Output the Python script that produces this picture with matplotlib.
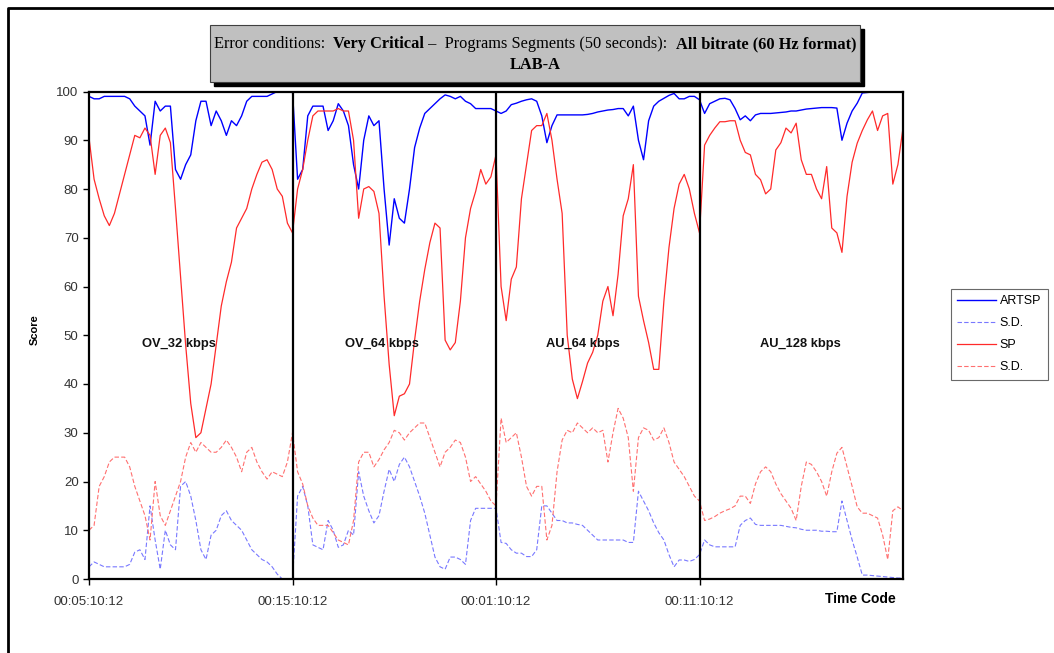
'''
ARTSP / SP scores with their standard deviations over four program segments
(OV_32, OV_64, AU_64, AU_128 kbps), error conditions: very critical, LAB-A
'''
import numpy as np
import matplotlib
matplotlib.use("Agg")
import matplotlib.pyplot as plt
from matplotlib.patches import Rectangle
from matplotlib.lines import Line2D

#  ------------  data  ---------------------------------------
segment_names = ["OV_32 kbps", "OV_64 kbps", "AU_64 kbps", "AU_128 kbps"]
time_labels = ["00:05:10:12", "00:15:10:12", "00:01:10:12", "00:11:10:12"]
samples_per_segment = 40

# ARTSP score (40 steps per segment)
artsp = [99, 98.5, 98.5, 99, 99, 99, 99, 99, 98.5, 97, 96, 95, 89, 98, 96, 97, 97, 84, 82, 85,
         87, 94, 98, 98, 93, 96, 94, 91, 94, 93, 95, 98, 99, 99, 99, 99, 99.5, 100, 100, 100, 100,
         82, 84, 95, 97, 97, 97, 92, 94, 97.5, 96, 93, 85, 80, 90, 95, 93, 94, 80, 68.5, 78,
         74, 73, 80, 88.5, 92.5, 95.5, 96.5, 97.5, 98.5, 99.3, 99, 98.5, 99, 98, 97.5, 96.5, 96.5, 96.5, 96.5, 96,
         95.5, 96, 97.3, 97.6, 98, 98.3, 98.5, 98, 95, 89.5, 93, 95.2, 95.2, 95.2, 95.2, 95.2, 95.2, 95.3, 95.5, 95.8,
         96, 96.2, 96.3, 96.5, 96.5, 95, 97, 90, 86, 94, 97, 98, 98.6, 99.2, 99.6, 98.5, 98.5, 99, 99, 98.3,
         95.5, 97.5, 98, 98.5, 98.6, 98.3, 96.5, 94.2, 95, 94, 95.2, 95.5, 95.5, 95.5, 95.6, 95.7, 95.8, 96, 96, 96.2,
         96.4, 96.5, 96.6, 96.7, 96.7, 96.7, 96.6, 90, 93.5, 96, 97.6, 99.7, 99.8, 99.9, 100, 100, 100, 100, 100, 100]

artsp_sd = [2.5, 3.5, 3, 2.5, 2.5, 2.5, 2.5, 2.5, 3, 5.5, 6, 4, 15, 8, 2, 10, 7, 6, 19, 20,
            17, 12, 6, 4, 9, 10, 13, 14, 12, 11, 10, 8, 6, 5, 4, 3.5, 2.5, 1, 0, 0, 0,
            17, 19, 15, 7, 6.5, 6, 12, 10, 6.5, 7, 10, 9, 22, 17, 14, 11.5, 13, 18, 22.5, 20,
            23.5, 25, 23, 20, 17, 13.5, 9, 4.5, 2.5, 2, 4.5, 4.5, 4, 3, 12, 14.5, 14.5, 14.5, 14.5, 14.5,
            7.5, 7.3, 6, 5.3, 5.3, 4.6, 4.6, 6, 15, 15, 13.5, 12, 12, 11.5, 11.5, 11.2, 11, 10, 9, 8,
            8, 8, 8, 8, 8, 7.5, 7.5, 18, 16, 14, 11.5, 9.5, 8, 5, 2.5, 3.9, 3.9, 3.6, 4, 5,
            8, 7, 6.6, 6.6, 6.6, 6.6, 6.6, 11, 12, 12.5, 11.2, 11, 11, 11, 11, 11, 10.8, 10.6, 10.5, 10.2,
            10, 10, 10, 9.8, 9.8, 9.7, 9.7, 16, 12, 8, 4.5, 0.8, 0.8, 0.7, 0.6, 0.5, 0.4, 0.3, 0.2, 0.2]

# SP score
sp = [90.5, 82, 78, 74.5, 72.5, 75, 79, 83, 87, 91, 90.5, 92.5, 91, 83, 91, 92.5, 89.5, 76, 62, 48,
      36, 29, 30, 35, 40, 48, 56, 61, 65, 72, 74, 76, 80, 83, 85.5, 86, 84, 80, 78.5, 73, 71,
      80, 84, 90, 95, 96, 96, 96, 96, 96.5, 96, 96, 90, 74, 80, 80.5, 79.5, 75, 58, 44, 33.5,
      37.5, 38, 40, 49, 57, 63.5, 69, 73, 72, 49, 47, 48.5, 57, 70, 76, 79.5, 84, 81, 82.5, 87,
      60, 53, 61.5, 64, 78, 85, 92, 93, 93, 95.5, 90, 82, 75, 50, 41, 37, 40.5, 44.3, 46.5, 50,
      57, 60, 54, 62.5, 74.5, 78, 85, 58, 53, 48.5, 43, 43, 57, 68, 76, 81, 83, 80, 75, 71,
      89, 91, 92.5, 93.8, 93.8, 94, 94, 90, 87.5, 87, 83, 81.9, 79, 80, 88, 89.5, 92.5, 91.5, 93.5, 86,
      83, 83, 80, 78, 84.6, 72, 71, 67, 78.5, 85.5, 89.4, 92, 94.2, 96, 92, 95, 95.5, 81, 85, 92.5]

sp_sd = [10, 11, 19, 21, 24, 25, 25, 25, 23, 19, 16, 13, 8, 20, 13, 11, 14, 17, 20, 25,
         28, 26, 28, 27, 26, 26, 27, 28.5, 27, 25, 22, 26, 27, 24, 22, 20.5, 22, 21.5, 21, 24, 30,
         22, 19.5, 15, 12.5, 11, 11, 11, 9.5, 8, 7.5, 7, 12, 24, 26, 26, 23, 24.5, 26.5, 28, 30.5,
         30, 28.5, 30, 31, 32, 32, 29, 26, 23, 26, 27, 28.5, 28, 25, 20, 21, 19.5, 18, 16, 15,
         33, 28, 29, 30, 25, 19, 17, 19, 19, 8, 11, 22, 28.5, 30.5, 30, 32, 31, 30, 31, 30,
         30.5, 24, 30, 35, 33, 29, 18, 29, 31, 30.5, 28.5, 29, 31, 28, 24, 22.5, 21, 19, 17, 16,
         12, 12.3, 12.8, 13.5, 14, 14.4, 15, 17, 17, 15.5, 19.5, 22, 23, 22, 19.5, 17.5, 16, 14.5, 12, 19,
         24, 23.5, 22, 20, 17, 22, 25.8, 27, 23, 19, 14.8, 13.5, 13.5, 13, 12.5, 9, 4, 14, 14.8, 14]


def add_title_box(fig):
    '''grey title box with a drop shadow, part of the first line in bold'''
    W, H = fig.get_size_inches() * fig.dpi
    x0, y0, x1, y1 = 210, 25, 860, 82
    shadow = Rectangle(((x0 + 4) / W, 1 - (y1 + 4) / H), (x1 - x0) / W, (y1 - y0) / H,
                       transform=fig.transFigure, facecolor="black", edgecolor="black", zorder=1)
    box = Rectangle((x0 / W, 1 - y1 / H), (x1 - x0) / W, (y1 - y0) / H,
                    transform=fig.transFigure, facecolor="#c0c0c0", edgecolor="#404040",
                    linewidth=0.8, zorder=2)
    fig.patches.extend([shadow, box])

    pieces = [("Error conditions:  ", "normal"), ("Very Critical", "bold"),
              (" \u2013  Programs Segments (50 seconds):  ", "normal"),
              ("All bitrate (60 Hz format)", "bold")]
    renderer = fig.canvas.get_renderer()
    texts = []
    widths = []
    for s, w in pieces:
        t = fig.text(0, 1 - 44 / H, s, fontsize=11.8, fontweight=w, family="Liberation Serif",
                     va="center", ha="left", zorder=3)
        texts.append(t)
        widths.append(t.get_window_extent(renderer).width)
    xs = (x0 + x1) / 2 - sum(widths) / 2
    for t, w in zip(texts, widths):
        t.set_x(xs / W)
        xs += w
    fig.text((x0 + x1) / 2 / W, 1 - 65 / H, "LAB-A", fontsize=11.8, fontweight="bold",
             family="Liberation Serif", va="center", ha="center", zorder=3)


def paint_scores():
    fig = plt.figure(figsize=(10.54, 6.53), dpi=100)
    W, H = 1054, 653

    # outer frame (left and top edges only are inside the picture)
    fig.lines.append(Line2D([7.5 / W, 7.5 / W, 1.0], [0.0, 1 - 7.5 / H, 1 - 7.5 / H],
                            transform=fig.transFigure, color="black", linewidth=2.0))

    ax = fig.add_axes([89 / W, 1 - 579 / H, (903 - 89) / W, (579 - 91.5) / H])

    n = len(artsp)
    x = np.arange(n)

    l1, = ax.plot(x, artsp, color="#0000ff", linewidth=1.0, label="ARTSP")
    l2, = ax.plot(x, artsp_sd, color="#7878ff", linewidth=0.8, linestyle=(0, (4, 2)), label="S.D.")
    l3, = ax.plot(x, sp, color="#ff2a2a", linewidth=0.9, label="SP")
    l4, = ax.plot(x, sp_sd, color="#ff7070", linewidth=0.8, linestyle=(0, (4, 2)), label="S.D.")

    # segment separators
    bounds = np.arange(1, len(segment_names)) * samples_per_segment
    for b in bounds:
        ax.axvline(b, color="black", linewidth=1.6, zorder=5)

    # segment names
    label_x = [17.7, 57.6, 97.1, 139.8]
    for lx, name in zip(label_x, segment_names):
        ax.text(lx, 48.2, name, ha="center", va="center", fontsize=9.3, fontweight="bold",
                family="Liberation Sans", color="#111111")

    # set range and ticks
    ax.set_xlim(0, n - 1)
    ax.set_ylim(0, 100)
    ax.set_yticks(np.arange(0, 101, 10))
    ax.set_xticks(np.arange(len(time_labels)) * samples_per_segment)
    ax.set_xticklabels(time_labels)
    ax.tick_params(axis="both", labelsize=9.5, colors="black", labelcolor="#333333",
                   direction="out", length=4, width=1.0)
    ax.tick_params(axis="x", labelsize=9.5, pad=8)
    for lab in ax.get_xticklabels() + ax.get_yticklabels():
        lab.set_family("Liberation Sans")
    for s in ax.spines.values():
        s.set_linewidth(1.6)
        s.set_color("black")

    # axis names
    fig.text(35 / W, 1 - 330 / H, "Score", rotation=90, fontsize=8, fontweight="bold",
             family="Liberation Sans", ha="center", va="center")
    fig.text(860 / W, 1 - 599 / H, "Time Code", fontsize=10, fontweight="bold",
             family="Liberation Sans", ha="center", va="center")

    # legend
    leg = fig.legend(handles=[l1, l2, l3, l4], loc="upper left",
                     bbox_to_anchor=(951 / W, 1 - 289 / H), frameon=True, fancybox=False,
                     prop={"family": "Liberation Sans", "size": 9}, handlelength=3.1,
                     borderpad=0.5, labelspacing=0.8, handletextpad=0.3, borderaxespad=0)
    leg.get_frame().set_edgecolor("#444444")
    leg.get_frame().set_linewidth(0.8)

    add_title_box(fig)

    plt.savefig("out.png", dpi=100)


def main():
    paint_scores()


if __name__ == "__main__":
    main()
